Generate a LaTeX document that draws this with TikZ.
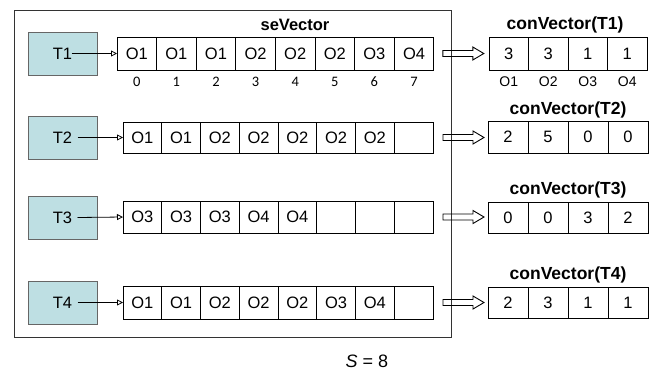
\documentclass[tikz,border=0pt]{standalone}
\usepackage{fontspec}
\setmainfont{Liberation Sans}
\newfontfamily\idxfont{Carlito}
\usetikzlibrary{arrows.meta,calc}
\definecolor{tealfill}{HTML}{BEDFE3}
\begin{document}
\begin{tikzpicture}[x=1pt,y=-1pt,
  cellbox/.style={draw, line width=0.8pt, inner sep=0pt, outer sep=0pt,
    font=\fontsize{16.5}{16.5}\selectfont},
  tbox/.style={draw=black!60, fill=tealfill, line width=0.9pt,
    minimum width=69pt, minimum height=43pt, inner sep=0pt,
    font=\fontsize{16.5}{16.5}\selectfont},
  ptr/.style={line width=0.8pt, -{Triangle[open,length=6pt,width=6pt]}},
  title/.style={font=\bfseries\fontsize{16.5}{16.5}\selectfont},
  ctitle/.style={font=\bfseries\fontsize{17.5}{17.5}\selectfont},
  idx/.style={font=\idxfont\fontsize{14.5}{14.5}\selectfont},
  hollow/.pic={\draw[line width=0.9pt] (0,3) -- (30,3) -- (30,6.5) -- (41,0)
    -- (30,-6.5) -- (30,-3) -- (0,-3) -- cycle;}
]
\useasboundingbox (0,0) rectangle (652,370);

% enclosing frame of the seVector part
\node[draw=black!80, line width=0.9pt, minimum width=437pt, minimum height=327pt,
  inner sep=0pt] (frame) at (232.5,173.5) {};
\node[title] (setitle) at (295,25) {seVector};

% task boxes
\node[tbox] (T1) at (62.5,53.5) {T1};
\node[tbox] (T2) at (62.5,137.5) {T2};
\node[tbox] (T3) at (62.5,217.5) {T3};
\node[tbox] (T4) at (62.5,302.5) {T4};

% seVector rows: row / left x / cell width / centre y / height / entries
\foreach \r/\xo/\w/\yc/\h/\vals in {
  1/117/39.6/53.5/33/{O1,O1,O1,O2,O2,O2,O3,O4},
  2/123/38.75/137.5/31/{O1,O1,O2,O2,O2,O2,O2,{}},
  3/123/38.75/217/32/{O3,O3,O3,O4,O4,{},{},{}},
  4/123/38.75/302.5/33/{O1,O1,O2,O2,O2,O3,O4,{}}}{
  \foreach \t [count=\j from 0] in \vals {
    \node[cellbox, minimum width=\w pt, minimum height=\h pt]
      (r\r c\j) at ({\xo+\w*(\j+0.5)},\yc) {\t};
  }
}

% conVector rows
\foreach \r/\xo/\w/\yc/\h/\vals in {
  1/489/39.5/53.5/33/{3,3,1,1},
  2/488/40/137/32/{2,5,0,0},
  3/488/40/217.5/31/{0,0,3,2},
  4/488/40/302.5/31/{2,3,1,1}}{
  \foreach \t [count=\j from 0] in \vals {
    \node[cellbox, minimum width=\w pt, minimum height=\h pt]
      (v\r c\j) at ({\xo+\w*(\j+0.5)},\yc) {\t};
  }
}

% titles of the conVectors
\node[ctitle] (ct1) at (565,25) {conVector(T1)};
\node[ctitle] (ct2) at (568,110) {conVector(T2)};
\node[ctitle] (ct3) at (568,190) {conVector(T3)};
\node[ctitle] (ct4) at (568,275) {conVector(T4)};

% slot indices under the first row
\foreach \j in {0,...,7}{
  \node[idx] (ix\j) at (r1c\j.center |- 0,82) {\j};
}
% object names under the first conVector
\foreach \o [count=\j from 0] in {O1,O2,O3,O4}{
  \node[font=\fontsize{14}{14}\selectfont] (ox\j) at (v1c\j.center |- 0,82) {\o};
}

% pointers from the tasks to their rows
\draw[ptr] ([xshift=9pt]T1.center) -- (r1c0.west);
\draw[ptr] ([xshift=15pt]T2.center) -- (r2c0.west);
\draw[ptr] ([xshift=15pt]T3.center) -- (r3c0.west);
\draw[ptr] ([xshift=15pt]T4.center) -- (r4c0.west);

% hollow arrows from each seVector row to its conVector
\path (r1c7.east) ++(9,0) pic {hollow};
\path (r2c7.east) ++(10,0) pic {hollow};
\path (r3c7.east) ++(10,0) pic {hollow};
\path (r4c7.east) ++(10,0) pic {hollow};

% size of the seVector
\node[font=\fontsize{18}{18}\selectfont] (size) at (367,361) {\textit{S} = 8};
\end{tikzpicture}
\end{document}
